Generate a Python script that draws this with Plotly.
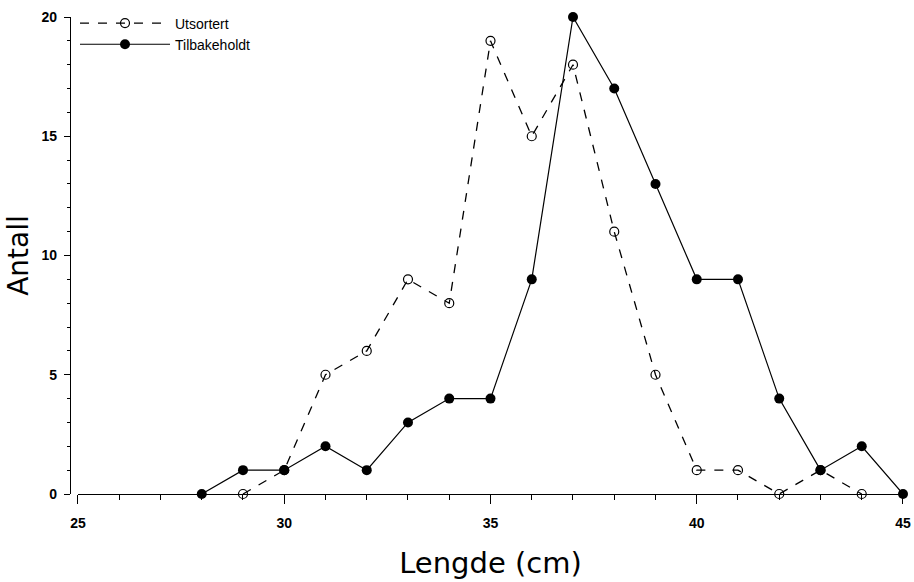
import plotly.graph_objects as go

lengde_ut = [29, 30, 31, 32, 33, 34, 35, 36, 37, 38, 39, 40, 41, 42, 43, 44]
utsortert = [0, 1, 5, 6, 9, 8, 19, 15, 18, 11, 5, 1, 1, 0, 1, 0]
lengde_til = [28, 29, 30, 31, 32, 33, 34, 35, 36, 37, 38, 39, 40, 41, 42, 43, 44, 45]
tilbakeholdt = [0, 1, 1, 2, 1, 3, 4, 4, 9, 20, 17, 13, 9, 9, 4, 1, 2, 0]
x_ticks = [25, 30, 35, 40, 45]
y_ticks = [0, 5, 10, 15, 20]

fig = go.Figure()
fig.add_trace(go.Scatter(
    x=lengde_ut, y=utsortert, name="Utsortert", mode="lines+markers",
    line=dict(color="black", width=1.3, dash="dash"),
    marker=dict(symbol="circle-open", size=9, color="black", line=dict(width=1.2)),
    cliponaxis=False,
))
fig.add_trace(go.Scatter(
    x=lengde_til, y=tilbakeholdt, name="Tilbakeholdt", mode="lines+markers",
    line=dict(color="black", width=1.2),
    marker=dict(symbol="circle", size=10, color="black"),
    cliponaxis=False,
))

fig.update_layout(
    width=914, height=582,
    margin=dict(l=70, r=11, t=17, b=88, autoexpand=False),
    plot_bgcolor="white", paper_bgcolor="white",
    font=dict(family="DejaVu Sans", color="black"),
    legend=dict(x=0.006, y=1.02, xanchor="left", yanchor="top",
                font=dict(size=14, family="Liberation Sans"),
                bgcolor="rgba(0,0,0,0)", tracegroupgap=0, itemwidth=90),
    showlegend=True,
)
fig.update_xaxes(
    domain=[0.0096, 1], range=[25, 45], tickvals=x_ticks,
    ticktext=[str(v) for v in x_ticks],
    showline=True, linecolor="black", linewidth=1.2,
    ticks="outside", ticklen=9, tickwidth=1.2, tickcolor="black",
    minor=dict(dtick=1, ticks="outside", ticklen=5, tickcolor="black", tickwidth=1),
    showgrid=False, zeroline=False, ticklabelstandoff=7,
    tickfont=dict(size=14, family="Liberation Sans Narrow, Liberation Sans", weight="bold"),
    title=dict(text="Lengde (cm)", font=dict(size=29, family="DejaVu Sans"), standoff=22),
)
fig.update_yaxes(
    anchor="free", position=0, range=[0, 20], tickvals=y_ticks,
    ticktext=[str(v) for v in y_ticks],
    showline=True, linecolor="black", linewidth=1.2,
    ticks="outside", ticklen=6, tickwidth=1.2, tickcolor="black",
    minor=dict(dtick=1, ticks="outside", ticklen=3, tickcolor="black", tickwidth=1),
    showgrid=False, zeroline=False, ticklabelstandoff=4,
    tickfont=dict(size=14, family="Liberation Sans Narrow, Liberation Sans", weight="bold"),
    title=dict(text="Antall", font=dict(size=28, family="DejaVu Sans"), standoff=3),
)

fig.write_html(
    "out.html",
    config={"displayModeBar": False},
    post_script="document.body.style.margin='0';document.body.style.overflow='hidden';",
)
